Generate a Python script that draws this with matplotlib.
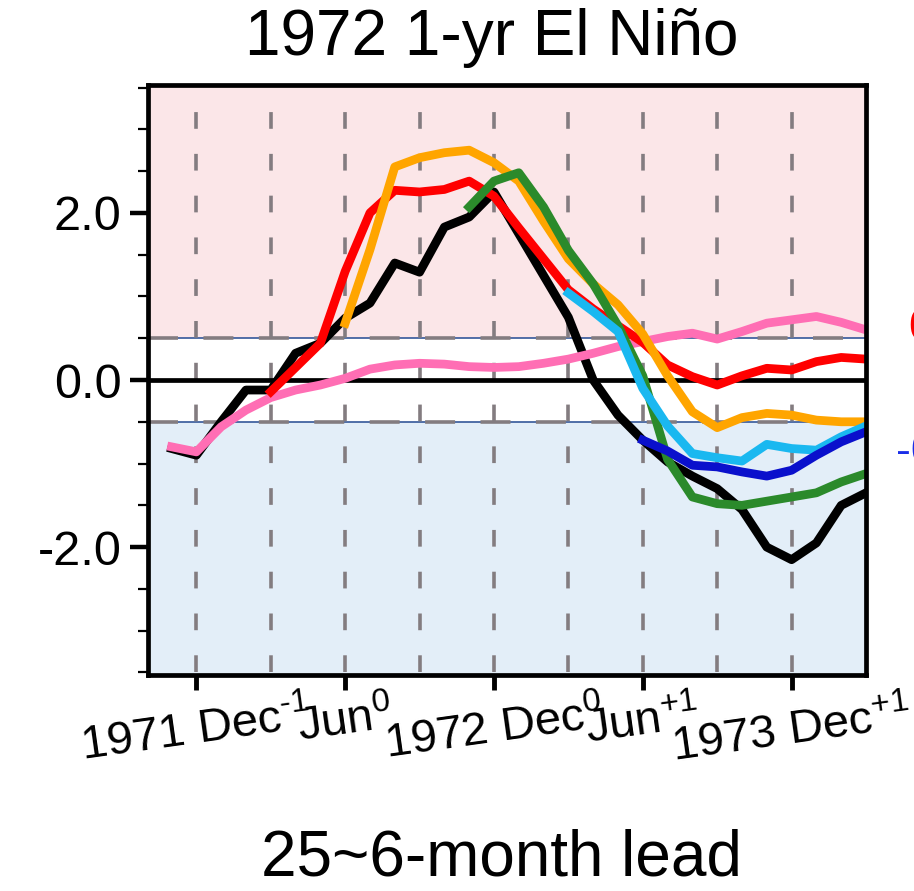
import numpy as np
import matplotlib
matplotlib.use("Agg")
import matplotlib.pyplot as plt
from matplotlib.patches import Rectangle

plt.rcParams['font.family'] = ['Liberation Sans', 'DejaVu Sans']
plt.rcParams['mathtext.fontset'] = 'custom'
plt.rcParams['mathtext.rm'] = 'Liberation Sans'
plt.rcParams['mathtext.it'] = 'Liberation Sans'
plt.rcParams['axes.unicode_minus'] = False
plt.rcParams['lines.scale_dashes'] = False

# ---------------- data (months relative to Dec 1971) ----------------
obs_months = list(range(-1, 28))
obs_black = [-0.82, -0.90, -0.50, -0.12, -0.12, 0.32, 0.44, 0.74, 0.92, 1.40,
             1.29, 1.83, 1.95, 2.25, 1.75, 1.25, 0.75, 0.00, -0.42, -0.72,
             -0.98, -1.15, -1.30, -1.55, -2.00, -2.15, -1.95, -1.50, -1.35]
pink_vals = [-0.80, -0.86, -0.56, -0.36, -0.21, -0.12, -0.06, 0.02, 0.13, 0.18,
             0.20, 0.19, 0.16, 0.15, 0.16, 0.20, 0.25, 0.32, 0.40, 0.46,
             0.52, 0.56, 0.49, 0.58, 0.68, 0.72, 0.76, 0.69, 0.60]

red_months = list(range(3, 28))
red_vals = [-0.14, 0.15, 0.44, 1.30, 2.00, 2.27, 2.25, 2.28, 2.38, 2.20,
            1.82, 1.45, 1.08, 0.85, 0.65, 0.45, 0.18, 0.04, -0.06, 0.05,
            0.14, 0.12, 0.22, 0.27, 0.25]

orange_months = list(range(6, 28))
orange_vals = [0.68, 1.56, 2.55, 2.66, 2.72, 2.75, 2.60, 2.38, 1.90, 1.45,
               1.15, 0.90, 0.55, 0.05, -0.38, -0.57, -0.45, -0.40, -0.42, -0.48,
               -0.50, -0.50]

green_months = list(range(11, 28))
green_vals = [2.07, 2.38, 2.48, 2.07, 1.55, 1.15, 0.65, 0.05, -0.95, -1.40,
              -1.48, -1.50, -1.45, -1.40, -1.35, -1.22, -1.12]

cyan_months = list(range(15, 28))
cyan_vals = [1.04, 0.82, 0.58, -0.10, -0.55, -0.88, -0.93, -0.97, -0.77, -0.82,
             -0.84, -0.68, -0.55]

blue_months = list(range(18, 28))
blue_vals = [-0.72, -0.85, -1.02, -1.04, -1.10, -1.15, -1.08, -0.90, -0.74, -0.62]

tick_pos = [0, 6, 12, 18, 24]
tick_labels = ["1971 Dec$^{\\text{-1}}$", "Jun$^{0}$", "1972 Dec$^{0}$",
               "Jun$^{+1}$", "1973 Dec$^{+1}$"]
ytick_pos = [2.0, 0.0, -2.0]
ytick_labels = ["2.0", "0.0", "-2.0"]
grid_months = list(range(0, 25, 3))

title = "1972 1-yr El Niño"
bottom_text = "25~6-month lead"

# ---------------- figure ----------------
fig = plt.figure(figsize=(9.14, 8.91), dpi=100)
ax = fig.add_axes([148/914, 216/891, 718/914, 590/891])
xmin, xmax = -1.95, 27.0
ymin, ymax = -3.53, 3.53
ax.set_xlim(xmin, xmax)
ax.set_ylim(ymin, ymax)

# shaded regions
ax.add_patch(Rectangle((xmin, 0.5), xmax - xmin, ymax - 0.5, facecolor='#fbe6e8',
                       edgecolor='#34579a', lw=1.2, zorder=0))
ax.add_patch(Rectangle((xmin, ymin), xmax - xmin, -0.5 - ymin, facecolor='#e3eef8',
                       edgecolor='#34579a', lw=1.2, zorder=0))

# grid dashes
ppu = 590 / (ymax - ymin) * 0.72  # points per data unit vertically
ax.vlines(grid_months, -3.5, 3.5, colors='#837c80', lw=2.6,
          linestyles=[(0, (0.2 * ppu, 0.3 * ppu))], zorder=1)
ax.hlines([0.5, -0.5], xmin, xmax, colors='#837c80', lw=2.6,
          linestyles=[(0, (21.6, 18.3))], zorder=1)
ax.axhline(0, color='black', lw=3.4, zorder=2)

lw = 6.3
ax.plot(obs_months, obs_black, color='#000000', lw=lw, zorder=3)
ax.plot(obs_months, pink_vals, color='#ff6eb4', lw=lw, zorder=4)
ax.plot(red_months, red_vals, color='#ff0000', lw=lw, zorder=5)
ax.plot(orange_months, orange_vals, color='#ffa500', lw=lw, zorder=6)
ax.plot(green_months, green_vals, color='#2b8a2b', lw=lw, zorder=7)
ax.plot(cyan_months, cyan_vals, color='#1ab8f0', lw=lw, zorder=8)
ax.plot(blue_months, blue_vals, color='#0a10cc', lw=lw, zorder=9)

for s in ax.spines.values():
    s.set_linewidth(3.4)
    s.set_color('black')
    s.set_zorder(10)

ax.set_xticks(tick_pos)
ax.set_xticklabels(tick_labels, rotation=8, ha='center', fontsize=34)
ax.tick_params(axis='x', length=11, width=3.5, pad=2, direction='out')
ax.set_yticks(ytick_pos)
ax.set_yticklabels(ytick_labels, fontsize=35)
ax.set_yticks(np.arange(-3.5, 3.51, 0.5), minor=True)
ax.tick_params(axis='y', which='major', length=13, width=3.2, pad=6, direction='out')
ax.tick_params(axis='y', which='minor', length=7, width=1.6, direction='out')

fig.text(492/914, 1 - 38/891, title, ha='center', va='center', fontsize=46)
fig.text(501/914, 1 - 858/891, bottom_text, ha='center', va='center', fontsize=46)

# cut-off annotations at the right edge (cut off in the reference too)
fig.text(908/914, 1 - 329/891, "0.6", color='#ff0000', ha='left', va='center', fontsize=32)
fig.text(896/914, 1 - 452/891, "-0.9", color='#1a2ee8', ha='left', va='center', fontsize=32)

fig.savefig("out.png", dpi=100)
